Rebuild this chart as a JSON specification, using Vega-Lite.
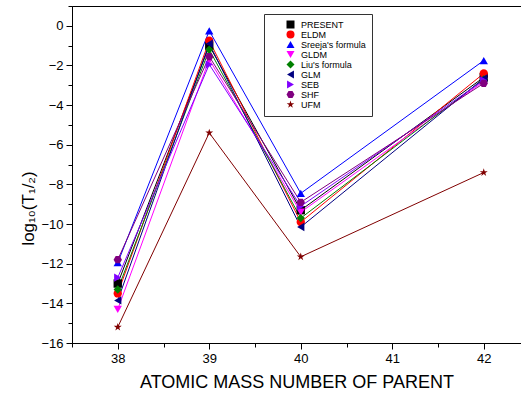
{
  "$schema": "https://vega.github.io/schema/vega-lite/v6.json",
  "autosize": "none",
  "width": 449,
  "height": 337,
  "padding": {"left": 72, "top": 6, "right": 0, "bottom": 55},
  "background": "white",
  "config": {
    "view": {"stroke": "black", "strokeWidth": 1},
    "font": "Liberation Sans",
    "axis": {
      "grid": false,
      "domainColor": "black",
      "tickColor": "black",
      "labelColor": "black",
      "titleColor": "black",
      "labelFont": "Liberation Sans",
      "titleFont": "Liberation Sans",
      "labelFontSize": 13,
      "titleFontWeight": "normal",
      "domainWidth": 1,
      "tickWidth": 1,
      "labelOverlap": false,
      "labelFlush": false
    },
    "legend": {
      "labelFont": "Liberation Sans",
      "labelFontSize": 9,
      "labelColor": "black",
      "symbolSize": 64,
      "symbolStrokeWidth": 0,
      "fillColor": "white",
      "strokeColor": "#333333",
      "padding": 6,
      "rowPadding": -0.9,
      "labelOffset": 6
    }
  },
  "data": {
    "values": [
      {"series": "PRESENT", "A": 38, "logT": -13.0},
      {"series": "PRESENT", "A": 39, "logT": -1.0},
      {"series": "PRESENT", "A": 40, "logT": -9.3},
      {"series": "PRESENT", "A": 42, "logT": -2.6},
      {"series": "ELDM", "A": 38, "logT": -13.5},
      {"series": "ELDM", "A": 39, "logT": -0.75},
      {"series": "ELDM", "A": 40, "logT": -9.9},
      {"series": "ELDM", "A": 42, "logT": -2.4},
      {"series": "Sreeja's formula", "A": 38, "logT": -11.95},
      {"series": "Sreeja's formula", "A": 39, "logT": -0.25},
      {"series": "Sreeja's formula", "A": 40, "logT": -8.45},
      {"series": "Sreeja's formula", "A": 42, "logT": -1.75},
      {"series": "GLDM", "A": 38, "logT": -14.3},
      {"series": "GLDM", "A": 39, "logT": -1.7},
      {"series": "GLDM", "A": 40, "logT": -9.4},
      {"series": "GLDM", "A": 42, "logT": -2.8},
      {"series": "Liu's formula", "A": 38, "logT": -13.3},
      {"series": "Liu's formula", "A": 39, "logT": -1.2},
      {"series": "Liu's formula", "A": 40, "logT": -9.7},
      {"series": "Liu's formula", "A": 42, "logT": -2.7},
      {"series": "GLM", "A": 38, "logT": -13.85},
      {"series": "GLM", "A": 39, "logT": -0.9},
      {"series": "GLM", "A": 40, "logT": -10.15},
      {"series": "GLM", "A": 42, "logT": -2.65},
      {"series": "SEB", "A": 38, "logT": -12.7},
      {"series": "SEB", "A": 39, "logT": -1.95},
      {"series": "SEB", "A": 40, "logT": -9.1},
      {"series": "SEB", "A": 42, "logT": -2.75},
      {"series": "SHF", "A": 38, "logT": -11.8},
      {"series": "SHF", "A": 39, "logT": -1.55},
      {"series": "SHF", "A": 40, "logT": -8.9},
      {"series": "SHF", "A": 42, "logT": -2.9},
      {"series": "UFM", "A": 38, "logT": -15.2},
      {"series": "UFM", "A": 39, "logT": -5.4},
      {"series": "UFM", "A": 40, "logT": -11.65},
      {"series": "UFM", "A": 42, "logT": -7.4}
    ]
  },
  "resolve": {"axis": {"x": "independent", "y": "independent"}},
  "layer": [
    {
      "mark": {"type": "line", "strokeWidth": 1},
      "encoding": {
        "x": {
          "field": "A", "type": "quantitative",
          "scale": {"domain": [37.5, 42.407], "nice": false, "zero": false},
          "axis": {
            "orient": "bottom",
            "title": "ATOMIC MASS NUMBER OF PARENT",
            "titleFontSize": 18,
            "titlePadding": 8,
            "values": [38, 39, 40, 41, 42],
            "format": "d",
            "labelPadding": 3,
            "tickSize": 6
          }
        },
        "y": {
          "field": "logT", "type": "quantitative",
          "scale": {"domain": [-16, 1], "nice": false, "zero": false},
          "axis": {
            "orient": "left",
            "title": "log₁₀(T₁/₂)",
            "titleFontSize": 17,
            "titleX": -35,
            "titleY": 202,
            "values": [-16, -14, -12, -10, -8, -6, -4, -2, 0],
            "format": "d",
            "labelPadding": 3,
            "tickSize": 6
          }
        },
        "color": {
          "field": "series", "type": "nominal",
          "scale": {
            "domain": ["PRESENT", "ELDM", "Sreeja's formula", "GLDM", "Liu's formula", "GLM", "SEB", "SHF", "UFM"],
            "range": ["#000000", "#ff0000", "#0000ff", "#ff00ff", "#008000", "#000080", "#8000ff", "#800080", "#800000"]
          }
        },
        "detail": {"field": "series"}
      }
    },
    {
      "mark": {"type": "point", "filled": true, "size": 70, "opacity": 1},
      "encoding": {
        "x": {
          "field": "A", "type": "quantitative",
          "scale": {"domain": [37.5, 42.407], "nice": false, "zero": false},
          "axis": {
            "orient": "bottom",
            "title": null,
            "values": [37.5, 38.5, 39.5, 40.5, 41.5],
            "labels": false,
            "domain": false,
            "tickSize": 4
          }
        },
        "y": {
          "field": "logT", "type": "quantitative",
          "scale": {"domain": [-16, 1], "nice": false, "zero": false},
          "axis": {
            "orient": "left",
            "title": null,
            "values": [-15, -13, -11, -9, -7, -5, -3, -1, 1],
            "labels": false,
            "domain": false,
            "tickSize": 4
          }
        },
        "color": {
          "field": "series", "type": "nominal",
          "legend": {
            "title": null,
            "orient": "none",
            "legendX": 192,
            "legendY": 8,
            "symbolOffset": 16
          }
        },
        "shape": {
          "field": "series", "type": "nominal",
          "legend": null,
          "scale": {
            "domain": ["PRESENT", "ELDM", "Sreeja's formula", "GLDM", "Liu's formula", "GLM", "SEB", "SHF", "UFM"],
            "range": ["square", "circle", "triangle-up", "triangle-down", "diamond", "triangle-left", "triangle-right", "M-1,0L-0.5,-0.866L0.5,-0.866L1,0L0.5,0.866L-0.5,0.866Z", "M0,-1L0.2245,-0.309L0.951,-0.309L0.363,0.118L0.588,0.809L0,0.382L-0.588,0.809L-0.363,0.118L-0.951,-0.309L-0.2245,-0.309Z"]
          }
        }
      }
    }
  ]
}
